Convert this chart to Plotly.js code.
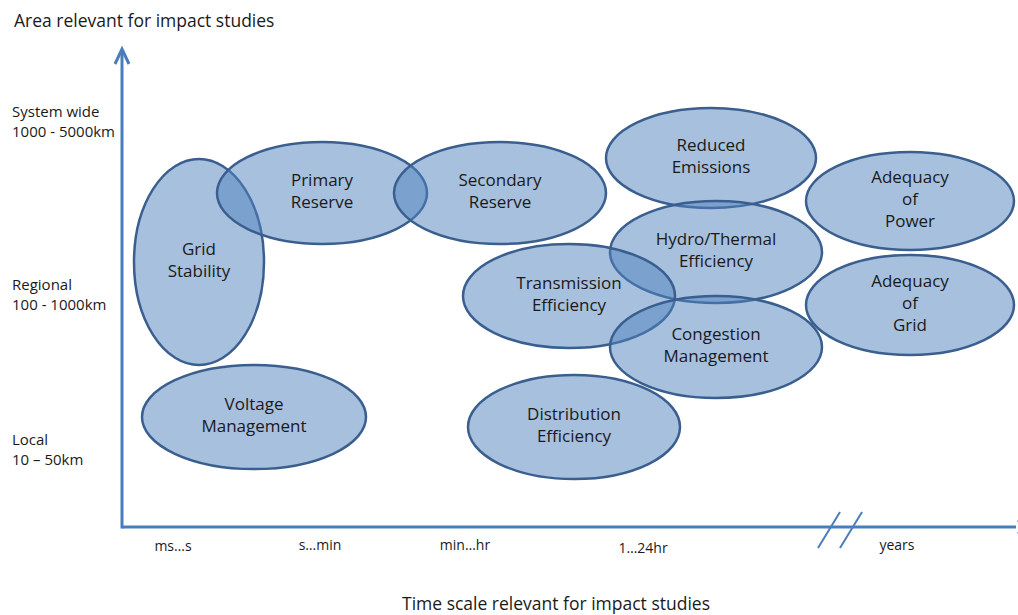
<!DOCTYPE html>
<html>
<head>
<meta charset="utf-8">
<script src="https://cdn.plot.ly/plotly-3.0.1.min.js"></script>
<style>html,body{margin:0;padding:0;background:#fff;}#chart{width:1018px;height:615px;}</style>
</head>
<body>
<div id="chart"></div>
<script>
// Bubble labels and geometry (diagram units: time scale on x, area on y)
const labels = ["Grid<br>Stability","Primary<br>Reserve","Secondary<br>Reserve","Reduced<br>Emissions","Adequacy<br>of<br>Power","Hydro/Thermal<br>Efficiency","Transmission<br>Efficiency","Adequacy<br>of<br>Grid","Congestion<br>Management","Voltage<br>Management","Distribution<br>Efficiency"];
const centerX = [199, 322, 500, 711, 910, 716, 569, 910, 716, 254, 574];
const centerY = [262, 193, 193, 158, 201, 252, 296, 305, 347, 417, 427];
const radiusX = [65, 105, 106, 105, 104, 106, 106, 104, 106, 112, 106];
const radiusY = [103, 51, 51, 50, 49, 51, 52, 50, 51, 52, 52];

// Axis tick labels
const timeTicks = ["ms…s","s…min","min…hr","1…24hr","years"];
const timeTickPos = [173, 320, 465, 643, 897];
const timeTickY = [547, 546, 546, 549, 546];
const areaTicks = ["System wide<br>1000 - 5000km","Regional<br>100 - 1000km","Local<br>10 – 50km"];
const areaTickY = [123, 296, 451];

const axisColor = "#4a7ebb";
const edge = "#3a5f8f";
const fill = "rgba(79,129,189,0.5)";
const font = "Open Sans, Liberation Sans, sans-serif";

const shapes = [];
for (let i = 0; i < labels.length; i++) {
  shapes.push({type:"circle", xref:"x", yref:"y", layer:"below",
    x0: centerX[i]-radiusX[i], x1: centerX[i]+radiusX[i],
    y0: centerY[i]-radiusY[i], y1: centerY[i]+radiusY[i],
    fillcolor: fill, line:{color: edge, width: 2.5}});
}
// axes
const ax0 = 122, ay0 = 527;
shapes.push({type:"line", xref:"x", yref:"y", x0:ax0, x1:ax0, y0:ay0+1.5, y1:50, line:{color:axisColor, width:3}});
shapes.push({type:"path", xref:"x", yref:"y", path:`M ${ax0-7} 64 L ${ax0} 49 L ${ax0+7} 64`, line:{color:axisColor, width:3}});
shapes.push({type:"line", xref:"x", yref:"y", x0:ax0, x1:1016, y0:ay0, y1:ay0, line:{color:axisColor, width:3}});
shapes.push({type:"path", xref:"x", yref:"y", path:`M 1018 520 L 1026 ${ay0} L 1018 534`, line:{color:axisColor, width:3}});
// break marks
shapes.push({type:"line", xref:"x", yref:"y", x0:818, x1:840, y0:548, y1:512, line:{color:axisColor, width:2}});
shapes.push({type:"line", xref:"x", yref:"y", x0:840, x1:862, y0:548, y1:512, line:{color:axisColor, width:2}});

const traces = [
  {type:"scatter", mode:"text", x:centerX, y:centerY, text:labels, textposition:"middle center",
   textfont:{family:font, size:17, color:"#1a1a1a"}, hoverinfo:"skip", showlegend:false},
  {type:"scatter", mode:"text", x:timeTickPos, y:timeTickY, text:timeTicks, textposition:"middle center",
   textfont:{family:font, size:14, color:"#1a1a1a"}, hoverinfo:"skip", showlegend:false},
  {type:"scatter", mode:"text", x:areaTicks.map(()=>12), y:areaTickY, text:areaTicks, textposition:"middle right",
   textfont:{family:font, size:15, color:"#1a1a1a"}, hoverinfo:"skip", showlegend:false}
];

const layout = {
  width:1018, height:615,
  margin:{l:0,r:0,t:0,b:0},
  paper_bgcolor:"#fff", plot_bgcolor:"#fff",
  xaxis:{range:[0,1018], visible:false, fixedrange:true},
  yaxis:{range:[615,0], visible:false, fixedrange:true},
  shapes: shapes,
  annotations:[
    {xref:"x", yref:"y", x:12, y:20, xanchor:"left", yanchor:"middle", showarrow:false,
     text:"Area relevant for impact studies", font:{family:font, size:17.5, color:"#1a1a1a"}},
    {xref:"x", yref:"y", x:556, y:603, xanchor:"center", yanchor:"middle", showarrow:false,
     text:"Time scale relevant for impact studies", font:{family:font, size:17.5, color:"#1a1a1a"}}
  ],
  showlegend:false
};
Plotly.newPlot("chart", traces, layout, {displayModeBar:false, staticPlot:true});
</script>
</body>
</html>
